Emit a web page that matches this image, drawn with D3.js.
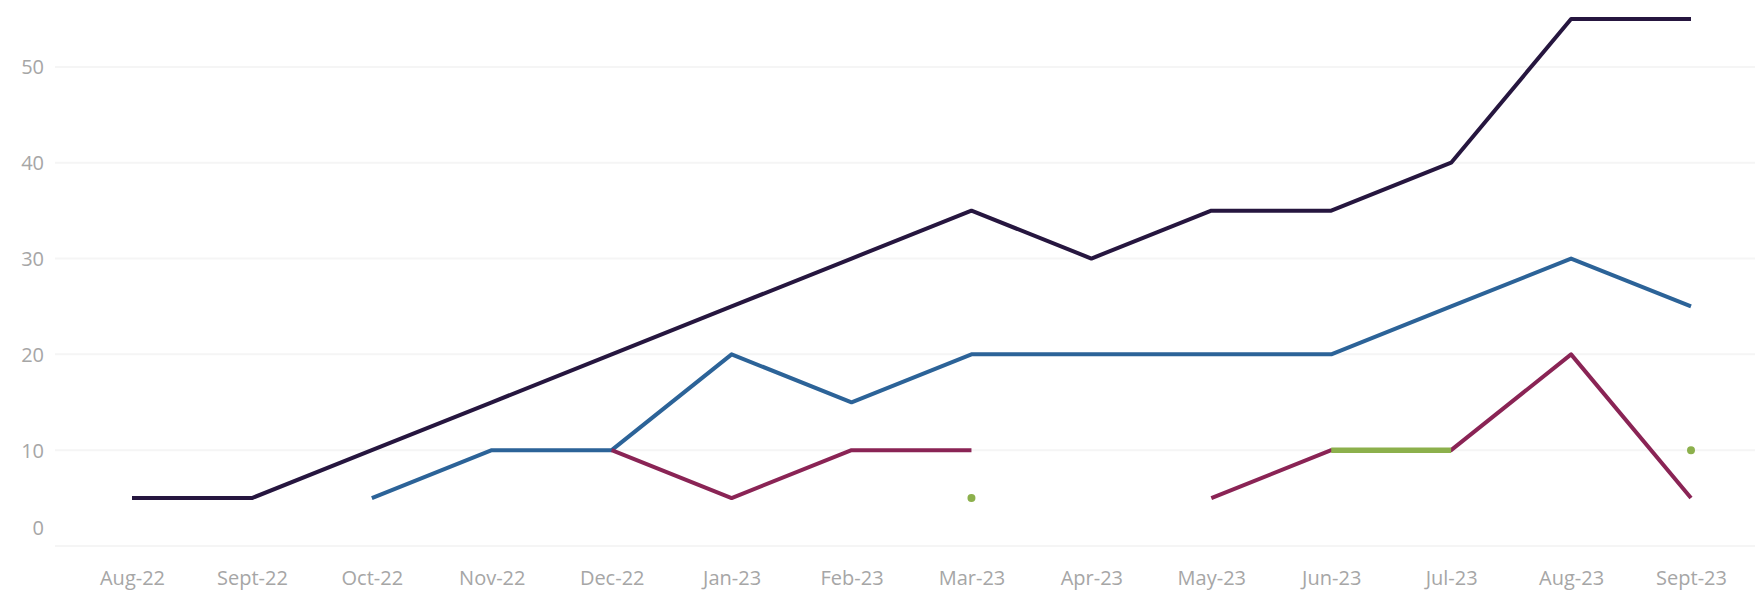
<!DOCTYPE html>
<html>
<head>
<meta charset="utf-8">
<script src="https://cdn.jsdelivr.net/npm/d3@7"></script>
<style>
  body { margin: 0; background: #fff; }
  .tick text { font-family: "Open Sans", sans-serif; fill: #a6a6a6; }
</style>
</head>
<body>
<div class="box"></div>
<script>
const months = ['Aug-22', 'Sept-22', 'Oct-22', 'Nov-22', 'Dec-22', 'Jan-23', 'Feb-23',
                'Mar-23', 'Apr-23', 'May-23', 'Jun-23', 'Jul-23', 'Aug-23', 'Sept-23'];
const yTicks = [0, 10, 20, 30, 40, 50];

const total   = [5, 5, 10, 15, 20, 25, 30, 35, 30, 35, 35, 40, 55, 55];
const blue    = [null, null, 5, 10, 10, 20, 15, 20, 20, 20, 20, 25, 30, 25];
const magenta = [null, null, null, null, 10, 5, 10, 10, null, 5, 10, 10, 20, 5];
const green   = [null, null, null, null, null, null, null, 5, null, null, 10, 10, null, 10];

const series = [
    {values: total, color: '#26163f', width: 4},
    {values: blue, color: '#2c6398', width: 4},
    {values: magenta, color: '#8a2455', width: 4},
    {values: green, color: '#8cb04c', width: 5.5}
];

const dims = {width: 1755, height: 592};

const svg = d3.select('.box')
              .append('svg')
              .attr('width', dims.width)
              .attr('height', dims.height);

const x = d3.scalePoint()
            .domain(months)
            .range([132, 1691]);

const y = d3.scaleLinear()
            .domain([0, 55])
            .range([546, 19]);

// grille
svg.append('g')
   .selectAll('line')
   .data(yTicks)
   .join('line')
   .attr('x1', 55)
   .attr('x2', dims.width)
   .attr('y1', d => y(d))
   .attr('y2', d => y(d))
   .attr('stroke', '#f5f5f5')
   .attr('stroke-width', 2);

const yAxis = svg.append('g')
                 .attr('transform', 'translate(44, 0)')
                 .call(d3.axisLeft(y).tickValues(yTicks).tickSize(0).tickPadding(0));
yAxis.select('.domain').remove();
yAxis.selectAll('text')
     .style('font-size', '20px')
     .attr('dy', d => d === 0 ? '-0.6em' : '0.35em');

const xAxis = svg.append('g')
                 .attr('transform', 'translate(0, 570)')
                 .call(d3.axisBottom(x).tickSize(0).tickPadding(0));
xAxis.select('.domain').remove();
xAxis.selectAll('text')
     .style('font-size', '20px')
     .attr('dy', '0.75em');

const line = d3.line()
               .defined(d => d !== null)
               .x((d, i) => x(months[i]))
               .y(d => y(d));

series.forEach(s => {
    svg.append('path')
       .datum(s.values)
       .attr('fill', 'none')
       .attr('stroke', s.color)
       .attr('stroke-width', s.width)
       .attr('stroke-linejoin', 'round')
       .attr('d', line);

    // points isolés
    const lone = s.values
                  .map((v, i) => ({v, i}))
                  .filter(d => d.v !== null &&
                               (d.i === 0 || s.values[d.i - 1] === null) &&
                               (d.i === s.values.length - 1 || s.values[d.i + 1] === null));
    svg.append('g')
       .selectAll('circle')
       .data(lone)
       .join('circle')
       .attr('cx', d => x(months[d.i]))
       .attr('cy', d => y(d.v))
       .attr('r', 4)
       .attr('fill', s.color);
});
</script>
</body>
</html>
